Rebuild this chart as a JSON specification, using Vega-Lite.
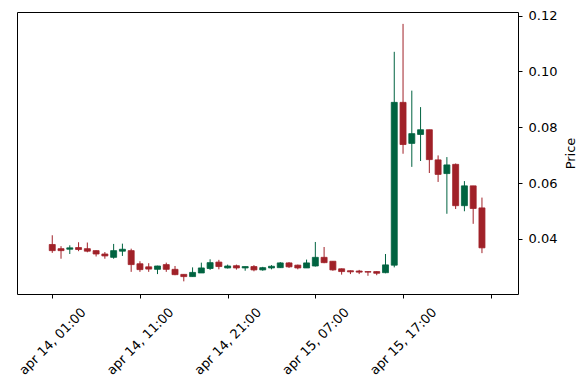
{
  "$schema": "https://vega.github.io/schema/vega-lite/v6.json",
  "autosize": {"type": "none"},
  "padding": {"left": 17, "top": 12, "right": 69, "bottom": 96},
  "width": 501,
  "height": 282,
  "background": "white",
  "config": {
    "font": "DejaVu Sans",
    "view": {"stroke": "black", "strokeWidth": 1},
    "axis": {"grid": false, "domain": false, "tickColor": "black", "labelColor": "black", "labelFontSize": 13, "titleColor": "black", "titleFontSize": 13, "titleFontWeight": "normal", "labelFont": "DejaVu Sans", "titleFont": "DejaVu Sans"}
  },
  "data": {"values": [
    {"i":0,"o":0.0380,"h":0.0413,"l":0.0350,"c":0.0358},
    {"i":1,"o":0.0365,"h":0.0374,"l":0.0329,"c":0.0358},
    {"i":2,"o":0.0363,"h":0.0377,"l":0.0346,"c":0.0368},
    {"i":3,"o":0.0369,"h":0.0388,"l":0.0356,"c":0.0362},
    {"i":4,"o":0.0365,"h":0.0387,"l":0.0352,"c":0.0356},
    {"i":5,"o":0.0358,"h":0.0359,"l":0.0337,"c":0.0346},
    {"i":6,"o":0.0346,"h":0.0353,"l":0.0329,"c":0.0339},
    {"i":7,"o":0.0334,"h":0.0382,"l":0.0329,"c":0.0358},
    {"i":8,"o":0.0356,"h":0.0383,"l":0.0339,"c":0.0363},
    {"i":9,"o":0.0358,"h":0.0365,"l":0.0282,"c":0.0308},
    {"i":10,"o":0.0311,"h":0.0320,"l":0.0282,"c":0.0290},
    {"i":11,"o":0.0300,"h":0.0313,"l":0.0282,"c":0.0292},
    {"i":12,"o":0.0291,"h":0.0304,"l":0.0274,"c":0.0303},
    {"i":13,"o":0.0308,"h":0.0315,"l":0.0282,"c":0.0291},
    {"i":14,"o":0.0291,"h":0.0303,"l":0.0270,"c":0.0272},
    {"i":15,"o":0.0273,"h":0.0273,"l":0.0248,"c":0.0265},
    {"i":16,"o":0.0265,"h":0.0298,"l":0.0265,"c":0.0280},
    {"i":17,"o":0.0278,"h":0.0315,"l":0.0278,"c":0.0296},
    {"i":18,"o":0.0294,"h":0.0327,"l":0.0289,"c":0.0315},
    {"i":19,"o":0.0317,"h":0.0325,"l":0.0291,"c":0.0301},
    {"i":20,"o":0.0296,"h":0.0308,"l":0.0294,"c":0.0303},
    {"i":21,"o":0.0304,"h":0.0308,"l":0.0290,"c":0.0296},
    {"i":22,"o":0.0296,"h":0.0301,"l":0.0286,"c":0.0301},
    {"i":23,"o":0.0301,"h":0.0306,"l":0.0284,"c":0.0289},
    {"i":24,"o":0.0289,"h":0.0300,"l":0.0286,"c":0.0297},
    {"i":25,"o":0.0296,"h":0.0306,"l":0.0291,"c":0.0302},
    {"i":26,"o":0.0297,"h":0.0317,"l":0.0296,"c":0.0314},
    {"i":27,"o":0.0314,"h":0.0317,"l":0.0296,"c":0.0300},
    {"i":28,"o":0.0306,"h":0.0308,"l":0.0291,"c":0.0296},
    {"i":29,"o":0.0296,"h":0.0326,"l":0.0296,"c":0.0314},
    {"i":30,"o":0.0303,"h":0.0389,"l":0.0301,"c":0.0334},
    {"i":31,"o":0.0334,"h":0.0371,"l":0.0313,"c":0.0315},
    {"i":32,"o":0.0320,"h":0.0320,"l":0.0286,"c":0.0289},
    {"i":33,"o":0.0293,"h":0.0294,"l":0.0272,"c":0.0283},
    {"i":34,"o":0.0286,"h":0.0287,"l":0.0274,"c":0.0282},
    {"i":35,"o":0.0285,"h":0.0289,"l":0.0274,"c":0.0281},
    {"i":36,"o":0.0283,"h":0.0283,"l":0.0268,"c":0.0281},
    {"i":37,"o":0.0283,"h":0.0284,"l":0.0270,"c":0.0277},
    {"i":38,"o":0.0279,"h":0.0346,"l":0.0277,"c":0.0307},
    {"i":39,"o":0.0306,"h":0.1070,"l":0.0298,"c":0.0889},
    {"i":40,"o":0.0889,"h":0.1170,"l":0.0705,"c":0.0738},
    {"i":41,"o":0.0742,"h":0.0931,"l":0.0658,"c":0.0777},
    {"i":42,"o":0.0774,"h":0.0872,"l":0.0679,"c":0.0791},
    {"i":43,"o":0.0791,"h":0.0791,"l":0.0636,"c":0.0684},
    {"i":44,"o":0.0683,"h":0.0699,"l":0.0604,"c":0.0631},
    {"i":45,"o":0.0634,"h":0.0693,"l":0.0490,"c":0.0665},
    {"i":46,"o":0.0667,"h":0.0670,"l":0.0507,"c":0.0519},
    {"i":47,"o":0.0519,"h":0.0607,"l":0.0499,"c":0.0590},
    {"i":48,"o":0.0590,"h":0.0590,"l":0.0454,"c":0.0509},
    {"i":49,"o":0.0511,"h":0.0548,"l":0.0349,"c":0.0368}
  ]},
  "encoding": {
    "x": {
      "field": "i", "type": "quantitative",
      "scale": {"domain": [-3.45, 52.54], "nice": false, "zero": false},
      "axis": {
        "title": null,
        "values": [0, 10, 20, 30, 40, 50],
        "tickSize": 4,
        "labelAngle": -45,
        "labelAlign": "center",
        "labelBaseline": "middle",
        "labelPadding": 43,
        "labelOverlap": false,
        "labelFlush": false,
        "labelBound": false,
        "labelExpr": "['apr 14, 01:00','apr 14, 11:00','apr 14, 21:00','apr 15, 07:00','apr 15, 17:00',''][round(datum.value/10)]"
      }
    },
    "color": {"condition": {"test": "datum.c >= datum.o", "value": "#006340"}, "value": "#A02128"}
  },
  "layer": [
    {
      "mark": {"type": "rule", "strokeWidth": 1},
      "encoding": {
        "y": {
          "field": "l", "type": "quantitative",
          "scale": {"domain": [0.02027, 0.12126], "nice": false, "zero": false},
          "axis": {
            "orient": "right",
            "title": "Price",
            "values": [0.04, 0.06, 0.08, 0.10, 0.12],
            "format": ".2f",
            "tickSize": 4,
            "labelPadding": 6,
            "titleAngle": 270,
            "titleAlign": "center",
            "titleBaseline": "middle",
            "titleX": 52,
            "titleY": 141
          }
        },
        "y2": {"field": "h"}
      }
    },
    {
      "mark": {"type": "bar", "size": 6, "strokeWidth": 0.8},
      "encoding": {
        "y": {"field": "o", "type": "quantitative"},
        "y2": {"field": "c"},
        "stroke": {"condition": {"test": "datum.c >= datum.o", "value": "#006340"}, "value": "#A02128"}
      }
    }
  ]
}
